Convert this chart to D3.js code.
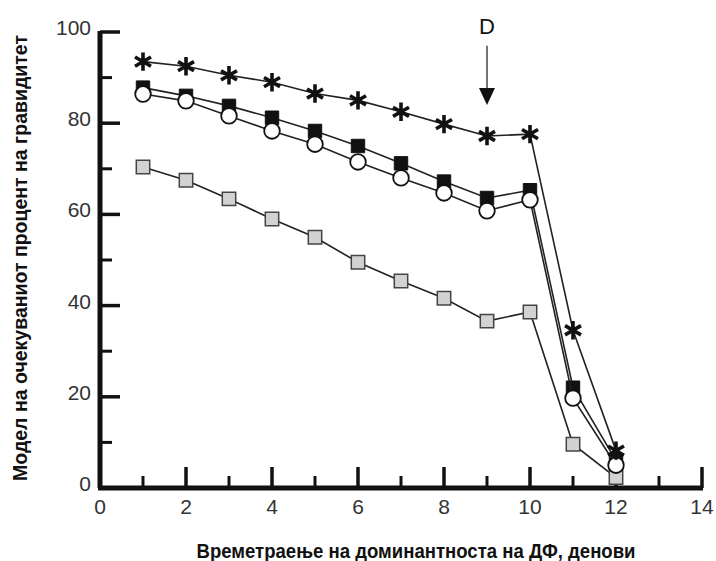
<!DOCTYPE html>
<html>
<head>
<meta charset="utf-8">
<script src="https://cdn.jsdelivr.net/npm/d3@7"></script>
<style>
  body { margin: 0; background: #fff; }
  .tick-label { font-family: "Liberation Sans", Arial, sans-serif; font-size: 21px; fill: #333; }
  .axis-title { font-family: "Liberation Sans", Arial, sans-serif; font-weight: bold; font-size: 20px; fill: #111; }
</style>
</head>
<body>
<svg class="chart" width="716" height="561"></svg>
<script>
// days of dominance
const days = [1, 2, 3, 4, 5, 6, 7, 8, 9, 10, 11, 12];

// series values (percent expected pregnancy)
const starValues   = [93.5, 92.5, 90.5, 89, 86.5, 85, 82.5, 79.8, 77.2, 77.6, 34.6, 8.2];
const blackValues  = [87.8, 86, 83.8, 81.2, 78.3, 75, 71.2, 67.2, 63.6, 65.3, 22, 6];
const circleValues = [86.4, 84.9, 81.6, 78.3, 75.4, 71.5, 68, 64.7, 60.8, 63.2, 19.7, 5];
const grayValues   = [70.4, 67.5, 63.4, 59, 55, 49.5, 45.4, 41.6, 36.6, 38.6, 9.6, 2.3];

// tick labels
const xTicks = [0, 2, 4, 6, 8, 10, 12, 14];
const xMinor = [1, 3, 5, 7, 9, 11, 13];
const yTicks = [0, 20, 40, 60, 80, 100];
const yMinor = [10, 30, 50, 70, 90];

// annotation
const arrowDay = 9;
const arrowFrom = 97;
const arrowTo = 84;
const arrowLabel = "D";

const svg = d3.select('.chart');

const x = d3.scaleLinear().domain([0, 14]).range([100, 702]);
const y = d3.scaleLinear().domain([0, 100]).range([488, 32]);

// heavy axis lines
svg.append('line')
  .attr('x1', x(0) - 2).attr('x2', x(14) + 1)
  .attr('y1', y(0)).attr('y2', y(0))
  .attr('stroke', '#111').attr('stroke-width', 5);
svg.append('line')
  .attr('x1', x(0)).attr('x2', x(0))
  .attr('y1', y(0)).attr('y2', y(100) - 1)
  .attr('stroke', '#111').attr('stroke-width', 5);

// ticks (pointing inwards)
const tickG = svg.append('g');
tickG.selectAll('line.xmaj').data(xTicks.filter(d => d > 0)).join('line')
  .attr('class', 'xmaj')
  .attr('x1', d => x(d)).attr('x2', d => x(d))
  .attr('y1', y(0)).attr('y2', y(0) - 21)
  .attr('stroke', '#111').attr('stroke-width', 3.5);
tickG.selectAll('line.xmin').data(xMinor).join('line')
  .attr('class', 'xmin')
  .attr('x1', d => x(d)).attr('x2', d => x(d))
  .attr('y1', y(0)).attr('y2', y(0) - 12)
  .attr('stroke', '#111').attr('stroke-width', 3);
tickG.selectAll('line.ymaj').data(yTicks.filter(d => d > 0)).join('line')
  .attr('class', 'ymaj')
  .attr('x1', x(0)).attr('x2', x(0) + 20)
  .attr('y1', d => y(d)).attr('y2', d => y(d))
  .attr('stroke', '#111').attr('stroke-width', 3.5);
tickG.selectAll('line.ymin').data(yMinor).join('line')
  .attr('class', 'ymin')
  .attr('x1', x(0)).attr('x2', x(0) + 12)
  .attr('y1', d => y(d)).attr('y2', d => y(d))
  .attr('stroke', '#111').attr('stroke-width', 3);

// tick labels
svg.selectAll('text.xl').data(xTicks).join('text')
  .attr('class', 'tick-label xl')
  .attr('x', d => x(d)).attr('y', 514)
  .attr('text-anchor', 'middle')
  .text(d => d);
svg.selectAll('text.yl').data(yTicks).join('text')
  .attr('class', 'tick-label yl')
  .attr('x', 91).attr('y', d => y(d) + 3)
  .attr('text-anchor', 'end')
  .text(d => d);

// axis titles
svg.append('text')
  .attr('class', 'axis-title')
  .attr('x', 416).attr('y', 558)
  .attr('text-anchor', 'middle')
  .attr('textLength', 439)
  .attr('lengthAdjust', 'spacingAndGlyphs')
  .text('Времетраење на доминантноста на ДФ, денови');
svg.append('text')
  .attr('class', 'axis-title')
  .attr('transform', 'translate(27,258) rotate(-90)')
  .attr('text-anchor', 'middle')
  .attr('textLength', 446)
  .attr('lengthAdjust', 'spacingAndGlyphs')
  .text('Модел на очекуваниот процент на гравидитет');

const line = d3.line().x((d, i) => x(days[i])).y(d => y(d));

function drawLine(values) {
  svg.append('path')
    .attr('d', line(values))
    .attr('fill', 'none')
    .attr('stroke', '#222')
    .attr('stroke-width', 1.6);
}

// gray squares
drawLine(grayValues);
svg.selectAll('path.gray').data(grayValues).join('path')
  .attr('class', 'gray')
  .attr('transform', (d, i) => `translate(${x(days[i])},${y(d)})`)
  .attr('d', d3.symbol(d3.symbolSquare, 180)())
  .attr('fill', '#d2d2d2').attr('stroke', '#444').attr('stroke-width', 1.5);

// black squares
drawLine(blackValues);
svg.selectAll('path.black').data(blackValues).join('path')
  .attr('class', 'black')
  .attr('transform', (d, i) => `translate(${x(days[i])},${y(d)})`)
  .attr('d', d3.symbol(d3.symbolSquare, 180)())
  .attr('fill', '#111').attr('stroke', '#111').attr('stroke-width', 1);

// open circles
drawLine(circleValues);
svg.selectAll('circle.circ').data(circleValues).join('circle')
  .attr('class', 'circ')
  .attr('cx', (d, i) => x(days[i])).attr('cy', d => y(d))
  .attr('r', 7.8)
  .attr('fill', '#fff').attr('stroke', '#111').attr('stroke-width', 1.8);

// asterisks
drawLine(starValues);
svg.selectAll('path.star').data(starValues).join('path')
  .attr('class', 'star')
  .attr('transform', (d, i) => `translate(${x(days[i])},${y(d)})`)
  .attr('d', d3.symbol(d3.symbolAsterisk, 240)())
  .attr('fill', 'none').attr('stroke', '#111').attr('stroke-width', 3.6);

// arrow annotation
svg.append('line')
  .attr('x1', x(arrowDay)).attr('x2', x(arrowDay))
  .attr('y1', y(arrowFrom)).attr('y2', y(arrowTo) - 14)
  .attr('stroke', '#444').attr('stroke-width', 1.5);
svg.append('path')
  .attr('d', `M${x(arrowDay) - 8},${y(arrowTo) - 17}L${x(arrowDay) + 8},${y(arrowTo) - 17}L${x(arrowDay)},${y(arrowTo)}Z`)
  .attr('fill', '#111');
svg.append('text')
  .attr('x', x(arrowDay)).attr('y', y(arrowFrom) - 12)
  .attr('text-anchor', 'middle')
  .style('font-family', '"Liberation Sans", Arial, sans-serif')
  .style('font-size', '22px')
  .style('fill', '#111')
  .text(arrowLabel);
</script>
</body>
</html>
